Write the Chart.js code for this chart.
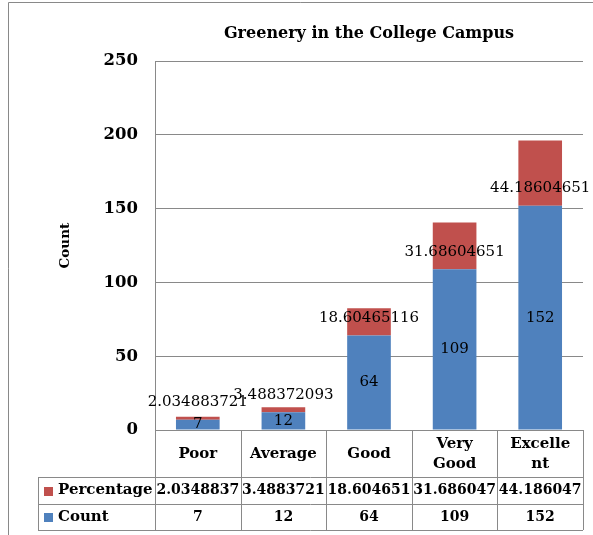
<!DOCTYPE html>
<html>
<head>
<meta charset="utf-8">
<script src="https://cdn.jsdelivr.net/npm/chart.js@4.4.0/dist/chart.umd.min.js"></script>
<style>
    body { margin: 0; background: #fff; }
    canvas { display: block; }
</style>
</head>
<body>
<canvas id="myChart" width="593" height="535"></canvas>
<script>
// Dados do gráfico
const categories = ['Poor', 'Average', 'Good', 'Very Good', 'Excellent'];
const categoryLines = [['Poor'], ['Average'], ['Good'], ['Very', 'Good'], ['Excelle', 'nt']];
const countValues = [7, 12, 64, 109, 152];
const percentageValues = [2.034883721, 3.488372093, 18.60465116, 31.68604651, 44.18604651];
const yTicks = [0, 50, 100, 150, 200, 250];

const FONT = 'DejaVu Serif';
const LINE = '#898989';
const BLUE = '#4F81BD';
const RED = '#C0504D';

// Moldura externa do gráfico
const framePlugin = {
    id: 'frame',
    beforeDraw(chart) {
        const c = chart.ctx;
        c.save();
        c.fillStyle = '#fff';
        c.fillRect(0, 0, chart.width, chart.height);
        c.strokeStyle = LINE;
        c.lineWidth = 1;
        c.beginPath();
        c.moveTo(8.5, chart.height);
        c.lineTo(8.5, 2.5);
        c.lineTo(chart.width, 2.5);
        c.stroke();
        c.restore();
    }
};

// Rótulos dos valores nas barras
const labelPlugin = {
    id: 'barLabels',
    afterDatasetsDraw(chart) {
        const c = chart.ctx;
        const y = chart.scales.y;
        const area = chart.chartArea;
        c.save();
        c.font = '15px "' + FONT + '"';
        c.fillStyle = '#000';
        c.textAlign = 'center';
        c.textBaseline = 'middle';

        const countMeta = chart.getDatasetMeta(0);
        c.save();
        c.beginPath();
        c.rect(area.left, area.top, area.right - area.left, area.bottom - area.top);
        c.clip();
        countMeta.data.forEach((bar, i) => {
            c.fillText(String(countValues[i]), bar.x, (bar.y + bar.base) / 2);
        });
        c.restore();

        const pctMeta = chart.getDatasetMeta(1);
        pctMeta.data.forEach((bar, i) => {
            c.fillText(String(percentageValues[i]), bar.x, y.getPixelForValue(countValues[i]) - 17.5);
        });
        c.restore();
    }
};

// Tabela de dados abaixo do eixo
const tablePlugin = {
    id: 'dataTable',
    afterDraw(chart) {
        const c = chart.ctx;
        const x = chart.scales.x;
        const area = chart.chartArea;
        const colW = (area.right - area.left) / categories.length;
        const top = area.bottom;
        const row1 = top + 47;
        const row2 = row1 + 27;
        const row3 = row2 + 26;
        const legendLeft = 38;

        c.save();
        c.strokeStyle = LINE;
        c.lineWidth = 1;
        c.beginPath();
        [top, row1, row2, row3].forEach((yy, k) => {
            c.moveTo(k === 0 ? area.left : legendLeft, Math.round(yy) + 0.5);
            c.lineTo(area.right, Math.round(yy) + 0.5);
        });
        for (let i = 0; i <= categories.length; i++) {
            const xx = Math.round(area.left + i * colW) + 0.5;
            c.moveTo(xx, top);
            c.lineTo(xx, row3);
        }
        c.moveTo(legendLeft + 0.5, row1);
        c.lineTo(legendLeft + 0.5, row3);
        c.stroke();

        c.fillStyle = '#000';
        c.textAlign = 'center';
        c.textBaseline = 'middle';
        c.font = 'bold 15px "' + FONT + '"';
        categoryLines.forEach((lines, i) => {
            const cx = x.getPixelForValue(i);
            const mid = (top + row1) / 2 + 0.5;
            lines.forEach((t, k) => {
                c.fillText(t, cx, mid + (k - (lines.length - 1) / 2) * 20);
            });
        });

        c.font = 'bold 14px "' + FONT + '"';
        percentageValues.forEach((v, i) => {
            c.fillText(String(Number(v.toPrecision(8))), x.getPixelForValue(i), (row1 + row2) / 2);
        });
        countValues.forEach((v, i) => {
            c.fillText(String(v), x.getPixelForValue(i), (row2 + row3) / 2);
        });

        // legenda dentro da tabela
        c.textAlign = 'left';
        c.font = 'bold 15px "' + FONT + '"';
        const series = [['Percentage', RED, (row1 + row2) / 2], ['Count', BLUE, (row2 + row3) / 2]];
        series.forEach(([name, color, yy]) => {
            c.fillStyle = color;
            c.fillRect(44, Math.round(yy) - 4, 9, 9);
            c.fillStyle = '#000';
            c.fillText(name, 58, yy);
        });
        c.restore();
    }
};

const ctx = document.getElementById('myChart').getContext('2d');

new Chart(ctx, {
    type: 'bar',
    data: {
        labels: categories,
        datasets: [
            {
                label: 'Count',
                data: countValues,
                backgroundColor: BLUE,
                borderWidth: 0,
            },
            {
                label: 'Percentage',
                data: percentageValues,
                backgroundColor: RED,
                borderWidth: 0,
            }
        ]
    },
    options: {
        responsive: false,
        animation: false,
        devicePixelRatio: 1,
        layout: {
            padding: { left: 8, right: 10, top: 2, bottom: 105 }
        },
        datasets: {
            bar: { categoryPercentage: 0.51, barPercentage: 1 }
        },
        plugins: {
            legend: { display: false },
            tooltip: { enabled: false },
            title: {
                display: true,
                fullSize: false,
                text: 'Greenery in the College Campus',
                color: '#000',
                font: { family: FONT, size: 16, weight: 'bold' },
                padding: { top: 22, bottom: 18 }
            }
        },
        scales: {
            x: {
                stacked: true,
                display: false
            },
            y: {
                stacked: true,
                min: yTicks[0],
                max: yTicks[yTicks.length - 1],
                afterFit: (scale) => { scale.width = 147; },
                ticks: {
                    stepSize: yTicks[1] - yTicks[0],
                    padding: 17,
                    color: '#000',
                    font: { family: FONT, size: 16.5, weight: 'bold' }
                },
                grid: {
                    color: LINE,
                    drawTicks: false
                },
                border: { color: LINE },
                title: {
                    display: true,
                    text: 'Count',
                    color: '#000',
                    font: { family: FONT, size: 13.5, weight: 'bold' },
                    padding: { top: 49, bottom: 0 }
                }
            }
        }
    },
    plugins: [framePlugin, labelPlugin, tablePlugin]
});
</script>
</body>
</html>
